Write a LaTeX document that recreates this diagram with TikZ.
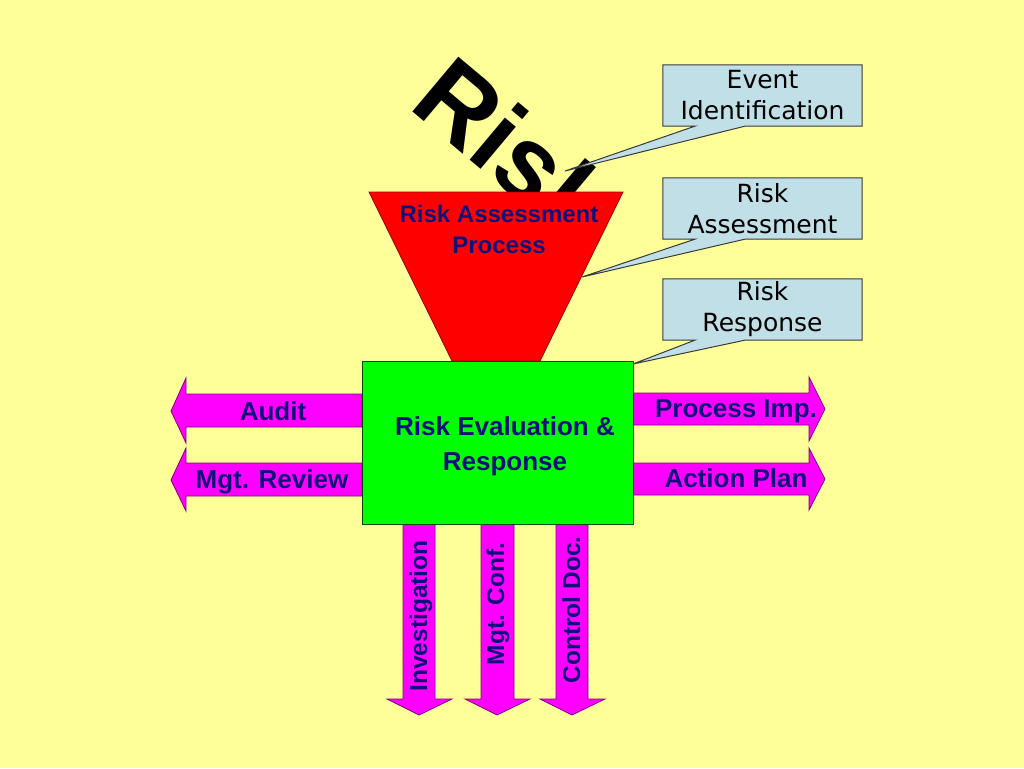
\documentclass[tikz,border=0pt]{standalone}
\usepackage{fontspec}
\setmainfont{Liberation Sans}
\newfontfamily\callfont{DejaVu Sans}
\pgfdeclarelayer{top}
\pgfsetlayers{main,top}
\definecolor{bgyellow}{HTML}{FFFF99}
\definecolor{navylab}{HTML}{10107A}
\definecolor{magfill}{HTML}{FF00FF}
\definecolor{magline}{HTML}{800080}
\definecolor{callblue}{HTML}{C0DFE6}
\definecolor{callline}{HTML}{3A3A3A}
\tikzset{
  blockarrow/.style={fill=magfill, draw=magline, line width=0.8pt, line join=miter},
  lab/.style={text=navylab, inner sep=0pt, font=\bfseries\fontsize{26}{26}\selectfont},
  vlab/.style={text=navylab, inner sep=0pt, rotate=90, anchor=base, font=\bfseries\fontsize{24.5}{24.5}\selectfont},
  callbox/.style={minimum width=199pt, minimum height=61pt, inner sep=0pt, align=center,
    font=\callfont\fontsize{25}{31}\selectfont},
  callshape/.style={fill=callblue, draw=callline, line width=1pt, line join=miter}
}
\begin{document}
\begin{tikzpicture}[x=1pt,y=-1pt]
\useasboundingbox (0,0) rectangle (1024,768);
\fill[bgyellow] (0,0) rectangle (1024,768);

% big rotated word
\node[anchor=base west, rotate=-40, inner sep=0pt,
      font=\bfseries\fontsize{104}{104}\selectfont] (risk) at (407,107) {Risk};

% funnel
\draw[fill=red, draw=red!60!black, line width=0.8pt, line join=miter]
  (369,192) -- (623,192) -- (540,361) -- (452,361) -- cycle;
\node[text=navylab, inner sep=0pt, align=center,
      font=\bfseries\fontsize{24}{31}\selectfont] (funneltext) at (499,229)
  {Risk Assessment\\Process};

% left arrows
\draw[blockarrow] (362,394) -- (186,394) -- (186,378) -- (171,411) -- (186,443) -- (186,427) -- (362,427) -- cycle;
\draw[blockarrow] (362,463) -- (186,463) -- (186,448) -- (171,480) -- (186,511) -- (186,496) -- (362,496) -- cycle;
% right arrows
\draw[blockarrow] (633,393) -- (809,393) -- (809,377) -- (825,409) -- (809,441) -- (809,425) -- (633,425) -- cycle;
\draw[blockarrow] (633,463) -- (809,463) -- (809,448) -- (825,479) -- (809,510) -- (809,495) -- (633,495) -- cycle;
% down arrows
\draw[blockarrow] (403,524) -- (403,699) -- (387,699) -- (419,715) -- (452,699) -- (435,699) -- (435,524) -- cycle;
\draw[blockarrow] (481,524) -- (481,699) -- (465,699) -- (497,715) -- (530,699) -- (514,699) -- (514,524) -- cycle;
\draw[blockarrow] (556,524) -- (556,699) -- (540,699) -- (572,715) -- (605,699) -- (588,699) -- (588,524) -- cycle;

% central box
\node[draw=black!70!green, fill=green, line width=0.8pt, anchor=north west,
      minimum width=271pt, minimum height=163pt, inner sep=0pt] (eval) at (362,361) {};
\node[text=navylab, inner sep=0pt, align=center,
      font=\bfseries\fontsize{26}{35}\selectfont] (evaltext) at (505,446)
  {Risk Evaluation \&\\Response};

% arrow labels
\node[lab, anchor=base] (audit) at (273,420) {Audit};
\node[lab, anchor=base] (mgtrev) at (272,488) {Mgt. Review};
\node[lab, anchor=base] (procimp) at (736,417) {Process Imp.};
\node[lab, anchor=base] (actplan) at (736,487) {Action Plan};
\node[vlab] (invest) at (427,616) {Investigation};
\node[vlab] (mgtconf) at (504,604) {Mgt. Conf.};
\node[vlab] (ctrldoc) at (580,610) {Control Doc.};

% callouts
\coordinate (t1) at (565,171);
\coordinate (t2) at (582,277);
\coordinate (t3) at (633,364);
\begin{pgfonlayer}{top}
\node[callbox] (c1) at (762.5,95.5) {Event\\Identification};
\node[callbox] (c2) at (762.5,208.5) {Risk\\Assessment};
\node[callbox] (c3) at (762.5,309.5) {Risk\\Response};
\end{pgfonlayer}
\foreach \c/\t in {c1/t1, c2/t2, c3/t3}{
  \draw[callshape] (\c.north west) -- (\c.north east) -- (\c.south east)
    -- ([xshift=82pt]\c.south west) -- (\t) -- ([xshift=32pt]\c.south west)
    -- (\c.south west) -- cycle;
}
\end{tikzpicture}
\end{document}
